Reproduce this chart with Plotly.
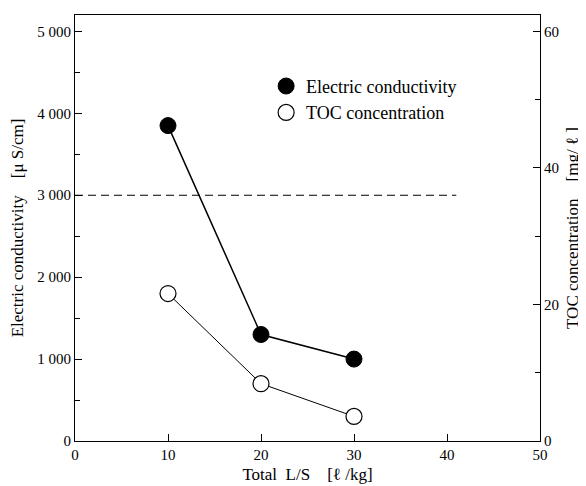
import plotly.graph_objects as go

# Data
ls_ratio = [10, 20, 30]
conductivity = [3850, 1300, 1000]          # μS/cm (left axis)
toc = [21.6, 8.4, 3.6]                     # mg/ℓ (right axis)
ref_x = [0, 41]
ref_y = [3000, 3000]

left_tickvals = [0, 1000, 2000, 3000, 4000, 5000]
left_ticktext = ["0", "1 000", "2 000", "3 000", "4 000", "5 000"]
right_tickvals = [0, 20, 40, 60]
x_tickvals = [0, 10, 20, 30, 40, 50]

FONT = "Liberation Serif, Times New Roman, serif"

fig = go.Figure()

fig.add_trace(go.Scatter(
    x=ref_x, y=ref_y, mode="lines",
    line=dict(color="black", width=1.2, dash="8px,5px"),
    showlegend=False, hoverinfo="skip"))

fig.add_trace(go.Scatter(
    x=ls_ratio, y=conductivity, mode="lines+markers",
    line=dict(color="black", width=1.5),
    marker=dict(size=16, color="black", line=dict(color="black", width=1)),
    showlegend=False))

fig.add_trace(go.Scatter(
    x=ls_ratio, y=toc, mode="lines+markers", yaxis="y2",
    line=dict(color="black", width=1),
    marker=dict(size=16, color="white", line=dict(color="black", width=1.2)),
    showlegend=False))

# legend entries (markers only)
fig.add_trace(go.Scatter(
    x=[None], y=[None], mode="markers", name="Electric conductivity",
    marker=dict(size=16, color="black", line=dict(color="black", width=1))))
fig.add_trace(go.Scatter(
    x=[None], y=[None], mode="markers", name="TOC concentration",
    marker=dict(size=16, color="white", line=dict(color="black", width=1.2))))

axis_common = dict(
    showgrid=False, zeroline=False, showline=True, linecolor="black",
    linewidth=1.2, ticks="inside", tickcolor="black", tickwidth=1,
    tickfont=dict(family=FONT, size=15, color="black"),
    automargin=False,
)

# the page body adds an 8px offset, so the figure is 8px smaller
fig.update_layout(
    width=578, height=478,
    margin=dict(l=67, r=46, t=7, b=45),
    paper_bgcolor="white", plot_bgcolor="white",
    font=dict(family=FONT, size=15, color="black"),
    xaxis=dict(
        **axis_common, range=[0, 50], tickvals=x_tickvals, ticklen=7,
        mirror=True,
        title=dict(text="Total  L/S    [ℓ /kg]", standoff=6,
                   font=dict(family=FONT, size=17)),
    ),
    yaxis=dict(
        **axis_common, range=[0, 5200], tickvals=left_tickvals,
        ticktext=left_ticktext, ticklen=7,
        minor=dict(ticks="inside", ticklen=5, dtick=500, tickcolor="black"),
        title=dict(text="Electric conductivity    [μ S/cm]", standoff=10,
                   font=dict(family=FONT, size=17)),
    ),
    yaxis2=dict(
        **axis_common, range=[0, 62.4], tickvals=right_tickvals, ticklen=7,
        overlaying="y", side="right",
        minor=dict(ticks="inside", ticklen=5, dtick=10, tickcolor="black"),
        title=dict(text="TOC concentration    [mg/ ℓ ]", standoff=8,
                   font=dict(family=FONT, size=17)),
    ),
    legend=dict(
        x=0.411, y=0.876, xanchor="left", yanchor="top",
        bgcolor="rgba(0,0,0,0)", borderwidth=0,
        font=dict(family=FONT, size=18, color="black"),
        itemwidth=30,
    ),
)

fig.write_html("out.html")
